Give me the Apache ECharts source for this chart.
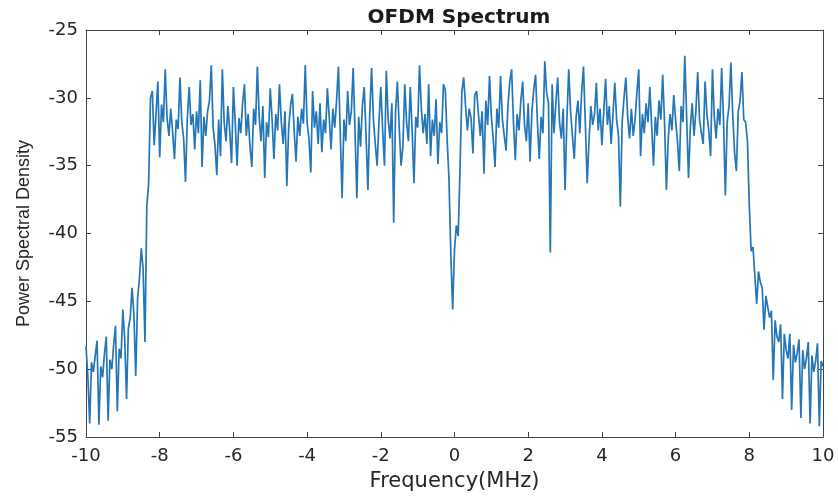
<!DOCTYPE html>
<html><head><meta charset="utf-8">
<script src="https://cdn.jsdelivr.net/npm/echarts@6/dist/echarts.min.js"></script>
<style>html,body{margin:0;padding:0;background:#fff}#c{width:838px;height:497px}</style>
</head><body><div id="c"></div>
<script>
// Frequency grid (MHz)
const freq = [
-10,-9.95,-9.9,-9.85,-9.8,-9.75,-9.7,-9.65,-9.6,-9.55,-9.5,-9.45,-9.4,-9.35,-9.3,-9.25,-9.2,-9.15,-9.1,-9.05,
-9,-8.95,-8.9,-8.85,-8.8,-8.75,-8.7,-8.65,-8.6,-8.55,-8.5,-8.45,-8.4,-8.35,-8.3,-8.25,-8.2,-8.15,-8.1,-8.05,
-8,-7.95,-7.9,-7.85,-7.8,-7.75,-7.7,-7.65,-7.6,-7.55,-7.5,-7.45,-7.4,-7.35,-7.3,-7.25,-7.2,-7.15,-7.1,-7.05,
-7,-6.95,-6.9,-6.85,-6.8,-6.75,-6.7,-6.65,-6.6,-6.55,-6.5,-6.45,-6.4,-6.35,-6.3,-6.25,-6.2,-6.15,-6.1,-6.05,
-6,-5.95,-5.9,-5.85,-5.8,-5.75,-5.7,-5.65,-5.6,-5.55,-5.5,-5.45,-5.4,-5.35,-5.3,-5.25,-5.2,-5.15,-5.1,-5.05,
-5,-4.95,-4.9,-4.85,-4.8,-4.75,-4.7,-4.65,-4.6,-4.55,-4.5,-4.45,-4.4,-4.35,-4.3,-4.25,-4.2,-4.15,-4.1,-4.05,
-4,-3.95,-3.9,-3.85,-3.8,-3.75,-3.7,-3.65,-3.6,-3.55,-3.5,-3.45,-3.4,-3.35,-3.3,-3.25,-3.2,-3.15,-3.1,-3.05,
-3,-2.95,-2.9,-2.85,-2.8,-2.75,-2.7,-2.65,-2.6,-2.55,-2.5,-2.45,-2.4,-2.35,-2.3,-2.25,-2.2,-2.15,-2.1,-2.05,
-2,-1.95,-1.9,-1.85,-1.8,-1.75,-1.7,-1.65,-1.6,-1.55,-1.5,-1.45,-1.4,-1.35,-1.3,-1.25,-1.2,-1.15,-1.1,-1.05,
-1,-0.95,-0.9,-0.85,-0.8,-0.75,-0.7,-0.65,-0.6,-0.55,-0.5,-0.45,-0.4,-0.35,-0.3,-0.25,-0.2,-0.15,-0.1,-0.05,
0,0.05,0.1,0.15,0.2,0.25,0.3,0.35,0.4,0.45,0.5,0.55,0.6,0.65,0.7,0.75,0.8,0.85,0.9,0.95,
1,1.05,1.1,1.15,1.2,1.25,1.3,1.35,1.4,1.45,1.5,1.55,1.6,1.65,1.7,1.75,1.8,1.85,1.9,1.95,
2,2.05,2.1,2.15,2.2,2.25,2.3,2.35,2.4,2.45,2.5,2.55,2.6,2.65,2.7,2.75,2.8,2.85,2.9,2.95,
3,3.05,3.1,3.15,3.2,3.25,3.3,3.35,3.4,3.45,3.5,3.55,3.6,3.65,3.7,3.75,3.8,3.85,3.9,3.95,
4,4.05,4.1,4.15,4.2,4.25,4.3,4.35,4.4,4.45,4.5,4.55,4.6,4.65,4.7,4.75,4.8,4.85,4.9,4.95,
5,5.05,5.1,5.15,5.2,5.25,5.3,5.35,5.4,5.45,5.5,5.55,5.6,5.65,5.7,5.75,5.8,5.85,5.9,5.95,
6,6.05,6.1,6.15,6.2,6.25,6.3,6.35,6.4,6.45,6.5,6.55,6.6,6.65,6.7,6.75,6.8,6.85,6.9,6.95,
7,7.05,7.1,7.15,7.2,7.25,7.3,7.35,7.4,7.45,7.5,7.55,7.6,7.65,7.7,7.75,7.8,7.85,7.9,7.95,
8,8.05,8.1,8.15,8.2,8.25,8.3,8.35,8.4,8.45,8.5,8.55,8.6,8.65,8.7,8.75,8.8,8.85,8.9,8.95,
9,9.05,9.1,9.15,9.2,9.25,9.3,9.35,9.4,9.45,9.5,9.55,9.6,9.65,9.7,9.75,9.8,9.85,9.9,9.95,10
];
// Power spectral density (dB)
const psd = [
-48.3,-50.5,-54.0,-49.5,-50.2,-49.0,-47.9,-54.1,-49.8,-50.6,-48.9,-47.6,-53.8,-49.3,-50.0,-48.2,-46.8,-53.1,-48.5,-49.2,
-45.6,-47.8,-52.2,-47.0,-46.2,-44.0,-46.0,-50.5,-44.8,-43.3,-41.1,-42.6,-48.0,-38.0,-36.3,-30.0,-29.5,-33.5,-31.2,-28.8,
-34.4,-30.5,-31.8,-27.9,-31.5,-32.8,-30.8,-32.5,-34.5,-31.6,-32.3,-28.5,-31.8,-33.0,-36.2,-31.5,-29.2,-32.0,-31.2,-33.8,
-31.0,-32.6,-28.7,-35.1,-31.4,-32.8,-31.0,-30.2,-27.6,-32.2,-33.5,-35.7,-31.6,-34.3,-27.9,-31.8,-33.2,-30.6,-32.4,-34.8,
-29.2,-31.8,-35.0,-31.5,-32.6,-30.4,-29.0,-32.8,-31.2,-33.6,-35.1,-30.8,-32.0,-27.7,-31.4,-33.2,-30.6,-35.9,-31.8,-32.9,
-29.3,-31.6,-34.5,-31.2,-32.4,-29.0,-31.8,-33.4,-31.0,-36.5,-32.2,-30.6,-29.7,-32.5,-34.7,-31.4,-32.8,-30.8,-31.9,-27.6,
-31.8,-33.0,-35.5,-29.5,-32.2,-31.0,-33.4,-30.4,-34.0,-31.6,-32.6,-29.3,-31.4,-33.8,-30.8,-32.2,-30.2,-27.7,-32.6,-37.4,
-31.6,-33.2,-29.5,-32.0,-31.0,-27.8,-32.4,-37.4,-31.4,-33.6,-30.6,-29.2,-32.8,-36.8,-31.2,-27.8,-31.6,-33.4,-35.0,-31.8,
-29.2,-32.4,-35.0,-28.0,-31.6,-33.0,-30.4,-39.2,-31.0,-28.8,-32.2,-35.0,-33.6,-29.0,-31.8,-33.2,-29.2,-32.4,-36.3,-31.4,
-32.2,-27.6,-30.8,-32.6,-31.2,-33.4,-29.0,-34.3,-31.6,-32.8,-30.1,-34.9,-31.8,-32.6,-29.0,-29.4,-33.0,-36.0,-41.5,-45.6,
-41.2,-39.4,-40.2,-35.2,-29.5,-28.5,-30.6,-32.4,-30.8,-31.5,-34.1,-29.8,-29.5,-31.2,-32.8,-31.0,-35.6,-30.2,-32.0,-28.4,
-31.4,-33.0,-35.1,-30.8,-32.2,-28.4,-31.6,-32.8,-33.9,-30.6,-28.8,-27.9,-31.8,-34.6,-31.2,-32.4,-30.2,-28.8,-32.0,-33.2,
-30.4,-34.7,-31.0,-29.4,-28.3,-31.8,-34.5,-31.4,-32.6,-27.3,-29.6,-30.4,-41.4,-29.0,-32.6,-30.4,-28.5,-31.8,-33.0,-30.8,
-36.8,-31.6,-27.9,-31.0,-32.8,-34.5,-31.4,-30.2,-32.6,-29.6,-27.7,-31.8,-36.3,-33.2,-30.6,-32.0,-31.2,-28.9,-32.4,-30.8,
-33.5,-31.0,-28.6,-32.0,-30.6,-33.4,-31.2,-28.9,-31.6,-32.8,-38.0,-31.8,-30.0,-28.5,-31.4,-33.0,-30.8,-32.8,-31.6,-29.6,
-27.9,-34.3,-31.2,-32.6,-30.4,-31.8,-29.2,-32.0,-35.0,-31.4,-32.8,-30.2,-31.6,-28.3,-31.8,-36.8,-33.0,-31.2,-32.4,-29.8,
-31.6,-33.2,-35.4,-30.6,-31.8,-26.9,-31.4,-35.9,-32.2,-30.4,-32.8,-31.0,-28.1,-31.6,-32.6,-33.4,-28.8,-31.2,-32.4,-34.3,
-27.9,-31.4,-33.0,-30.8,-32.0,-27.8,-31.6,-37.2,-31.8,-30.6,-27.4,-31.2,-34.0,-35.4,-31.0,-30.2,-28.1,-31.6,-31.8,-33.2,
-38.0,-41.3,-41.0,-40.9,-45.2,-42.8,-43.6,-44.0,-47.1,-44.6,-45.4,-46.2,-45.7,-50.8,-46.4,-47.6,-48.0,-46.7,-52.2,-47.4,
-48.6,-49.2,-47.4,-53.0,-48.2,-49.5,-48.8,-47.8,-53.6,-48.6,-50.0,-49.2,-48.0,-54.0,-49.0,-50.2,-49.4,-48.1,-54.2,-49.4,-49.8
];
const titleText = 'OFDM Spectrum';
const xName = 'Frequency(MHz)';
const yName = 'Power Spectral Density';

const points = freq.map((f, i) => [f, psd[i]]);
const axisColor = '#444444';
const textColor = '#262626';
const tickFont = { color: textColor, fontSize: 18, fontFamily: 'DejaVu Sans' };

const chart = echarts.init(document.getElementById('c'), null, { renderer: 'canvas' });
chart.setOption({
  animation: false,
  backgroundColor: '#ffffff',
  title: {
    text: titleText, left: 454, top: 3, textAlign: 'center',
    textStyle: { fontSize: 20, fontWeight: 'bold', color: '#1a1a1a', fontFamily: 'DejaVu Sans' }
  },
  grid: { left: 86, right: 15, top: 30, bottom: 56, containLabel: false },
  xAxis: [
    {
      type: 'value', min: -10, max: 10, interval: 2, position: 'bottom',
      axisLine: { show: true, onZero: false, lineStyle: { color: axisColor, width: 1 } },
      axisTick: { show: true, inside: true, length: 5, lineStyle: { color: axisColor } },
      axisLabel: Object.assign({ margin: 10 }, tickFont),
      splitLine: { show: false },
      name: xName, nameLocation: 'middle', nameGap: 34,
      nameTextStyle: { color: textColor, fontSize: 21, fontFamily: 'DejaVu Sans' }
    },
    {
      type: 'value', min: -10, max: 10, interval: 2, position: 'top',
      axisLine: { show: true, onZero: false, lineStyle: { color: axisColor, width: 1 } },
      axisTick: { show: true, inside: true, length: 5, lineStyle: { color: axisColor } },
      axisLabel: { show: false }, splitLine: { show: false }
    }
  ],
  yAxis: [
    {
      type: 'value', min: -55, max: -25, interval: 5, position: 'left',
      axisLine: { show: true, onZero: false, lineStyle: { color: axisColor, width: 1 } },
      axisTick: { show: true, inside: true, length: 5, lineStyle: { color: axisColor } },
      axisLabel: Object.assign({ margin: 8 }, tickFont),
      splitLine: { show: false },
      name: yName, nameLocation: 'middle', nameGap: 53,
      nameTextStyle: { color: textColor, fontSize: 18, fontFamily: 'Liberation Sans' }
    },
    {
      type: 'value', min: -55, max: -25, interval: 5, position: 'right',
      axisLine: { show: true, onZero: false, lineStyle: { color: axisColor, width: 1 } },
      axisTick: { show: true, inside: true, length: 5, lineStyle: { color: axisColor } },
      axisLabel: { show: false }, splitLine: { show: false }
    }
  ],
  series: [{
    type: 'line', xAxisIndex: 0, yAxisIndex: 0, data: points,
    showSymbol: false, symbol: 'none',
    lineStyle: { color: '#2376b7', width: 1.7 }
  }]
});
</script>
</body></html>
